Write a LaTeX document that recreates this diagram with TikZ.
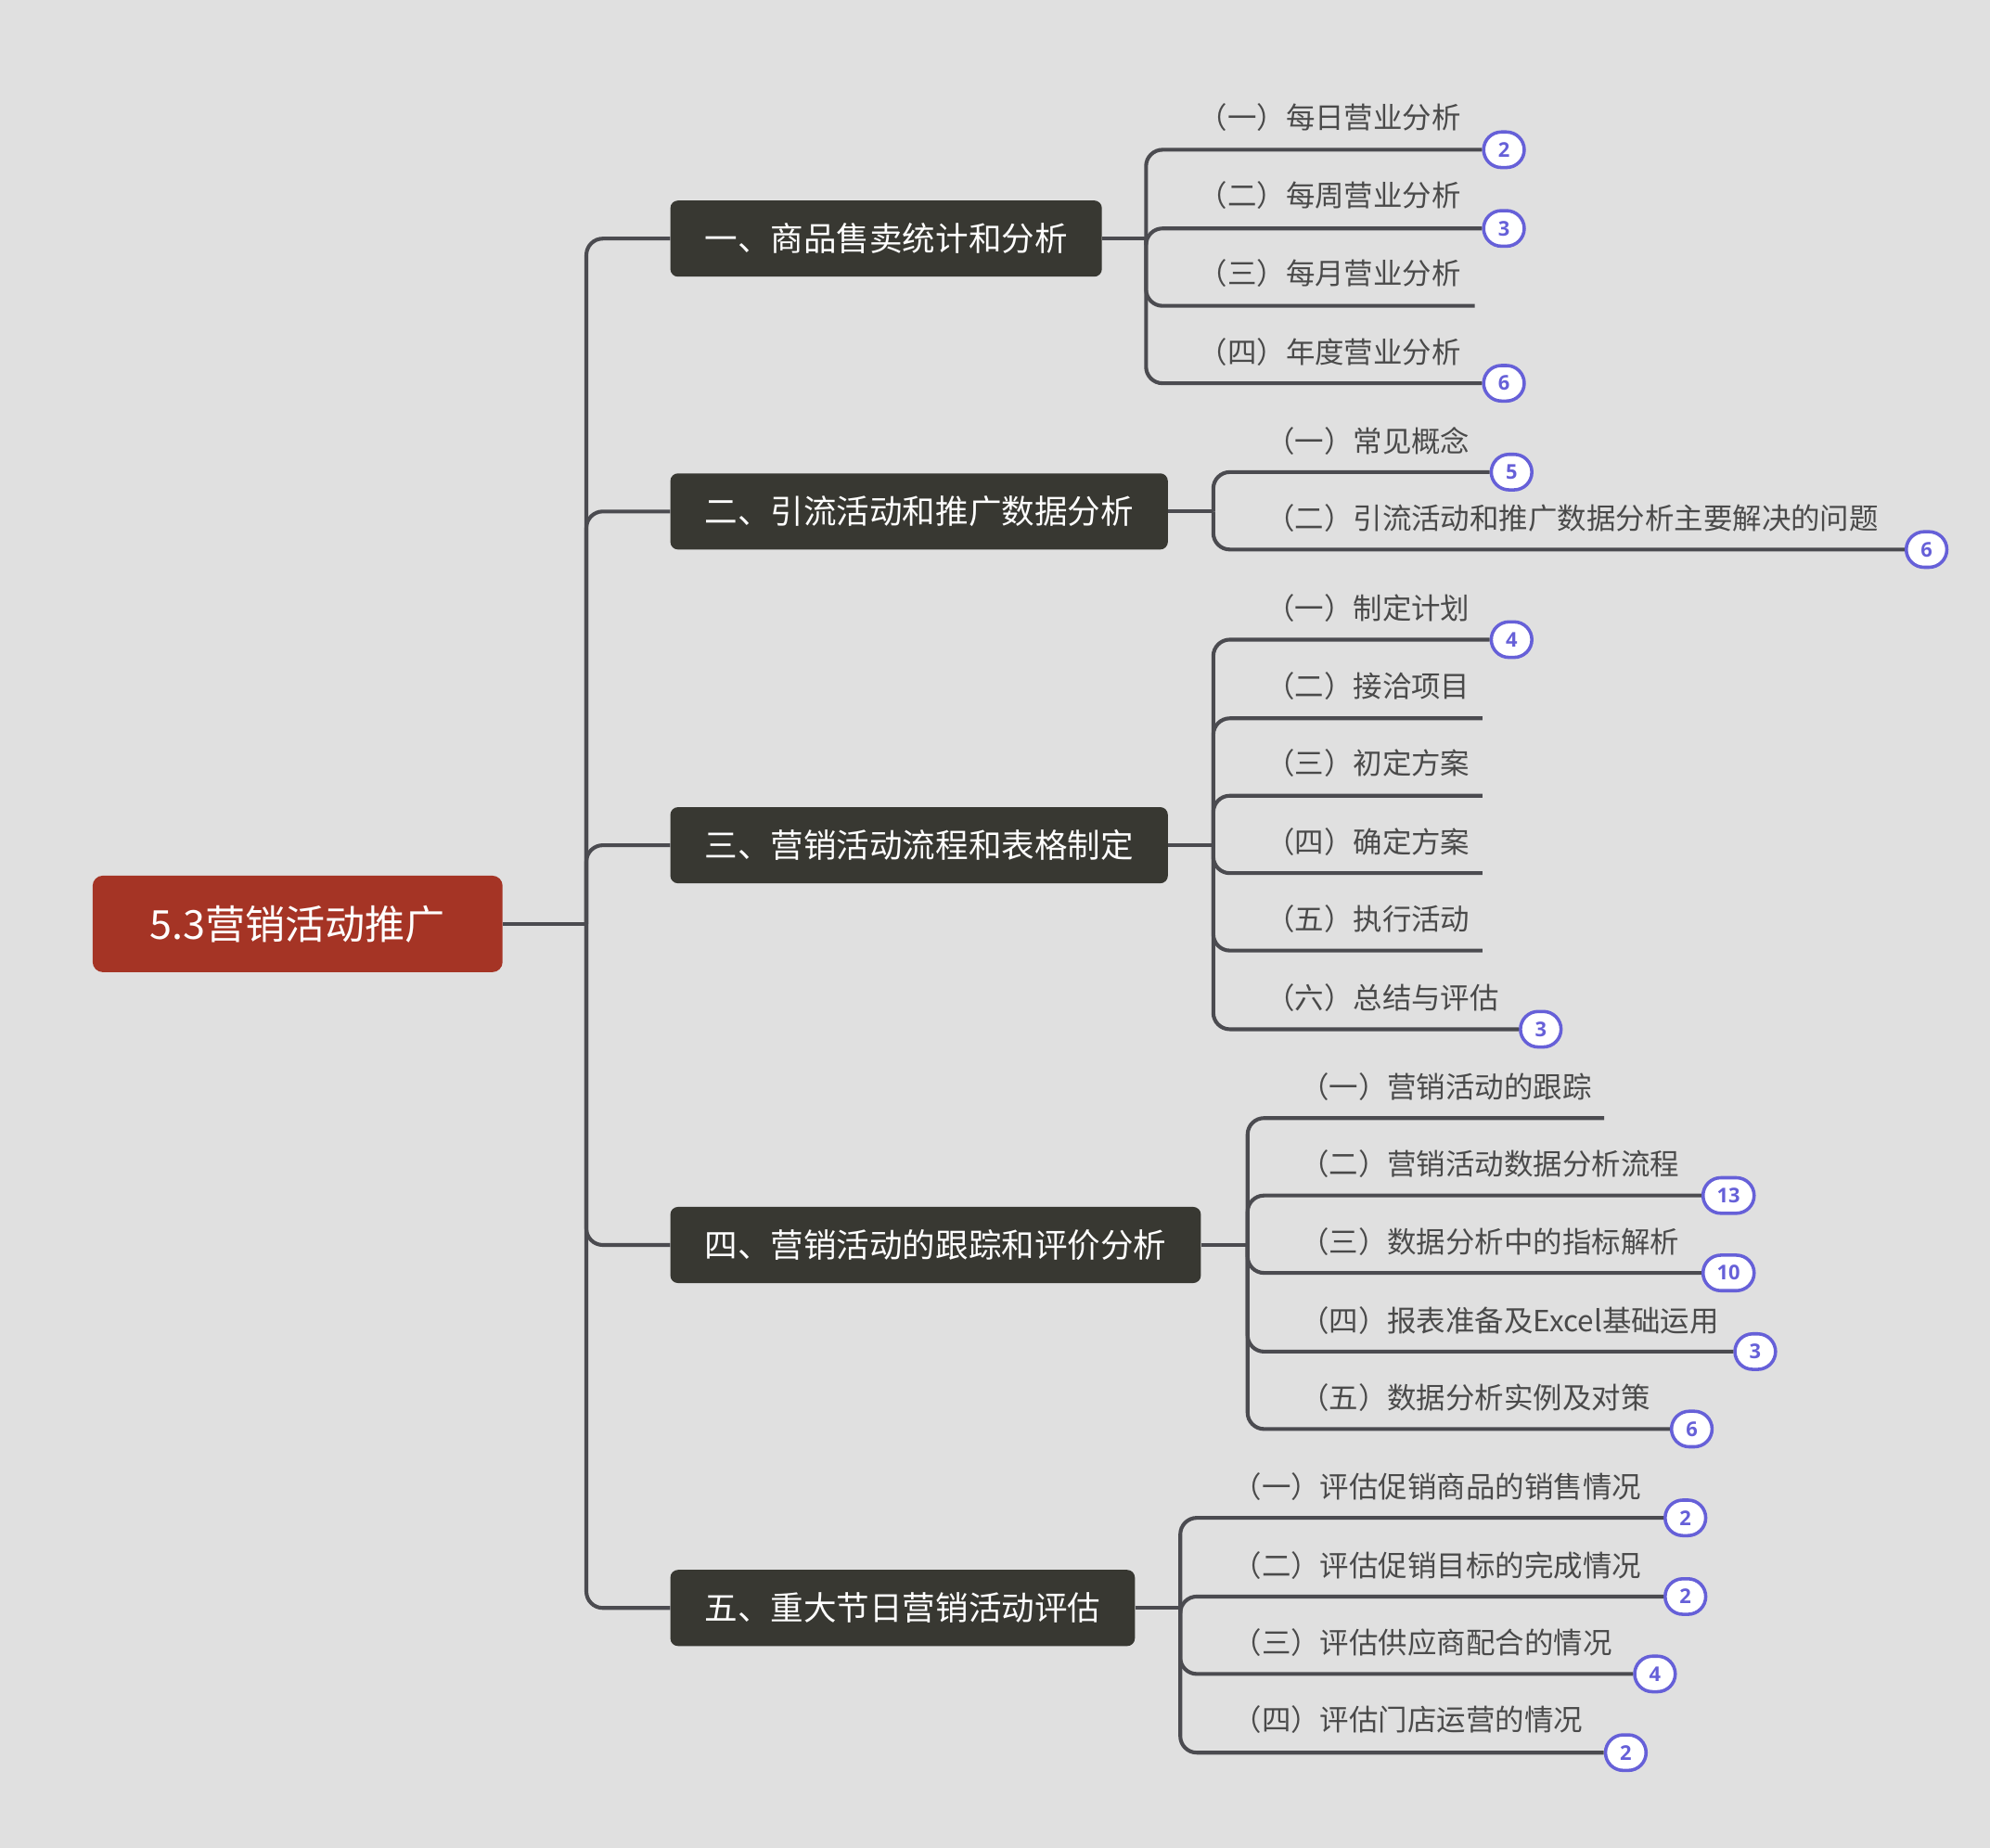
\documentclass[tikz,border=0pt]{standalone}
\usepackage{fontspec}
\setmainfont{Noto Sans CJK SC}
\newfontfamily\badgefont{Open Sans}
\definecolor{bgc}{HTML}{E0E0E0}
\definecolor{rootred}{HTML}{A53425}
\definecolor{topicdark}{HTML}{383832}
\definecolor{subgray}{HTML}{4A4A4A}
\definecolor{linegray}{HTML}{4B4B50}
\definecolor{badgeblue}{HTML}{6660D8}
\begin{document}
\begin{tikzpicture}[x=1pt,y=-1pt,
  rootbox/.style={rectangle, rounded corners=8pt, fill=rootred, text=white,
    font=\fontsize{31.5}{36}\selectfont, minimum width=323pt, minimum height=76pt, inner sep=0pt},
  topic/.style={rectangle, rounded corners=6pt, fill=topicdark, text=white,
    font=\fontsize{26}{30}\selectfont, minimum height=60pt, inner xsep=27pt, inner ysep=0pt, anchor=west},
  sub/.style={font=\fontsize{23}{27}\selectfont, text=subgray, inner sep=0pt, anchor=base west, xshift=-3pt},
  badge/.style={rectangle, rounded corners=14pt, draw=badgeblue, line width=2.6pt, fill=white,
    minimum width=32pt, minimum height=28pt, inner xsep=11pt, inner ysep=0pt,
    font=\badgefont\bfseries\fontsize{16}{16}\selectfont, text=badgeblue},
  conn/.style={draw=linegray, line width=3pt},
  elbow/.style={conn, rounded corners=13pt}
]
\useasboundingbox (0,0) rectangle (1568,1456);
\fill[bgc] (0,0) rectangle (1568,1456);

% root
\node[rootbox] (root) at (234.5,728) {5.3营销活动推广};
\coordinate (trunk) at (462,728);

% topics
\node[topic] (t1) at (528,188) {一、商品售卖统计和分析};
\node[topic] (t2) at (528,403) {二、引流活动和推广数据分析};
\node[topic] (t3) at (528,666) {三、营销活动流程和表格制定};
\node[topic] (t4) at (528,981) {四、营销活动的跟踪和评价分析};
\node[topic] (t5) at (528,1267) {五、重大节日营销活动评估};

\draw[conn] (root.east) -- (trunk);
\foreach \tp in {t1,t2,t3,t4,t5} \draw[elbow] (trunk) |- (\tp.west);

% ---------- group 1 ----------
\coordinate (j1) at (903,188);
\draw[conn] (t1.east) -- (j1);
\node[sub] (s1a) at (947,101) {（一）每日营业分析};
\node[sub] (s1b) at (947,163) {（二）每周营业分析};
\node[sub] (s1c) at (947,224) {（三）每月营业分析};
\node[sub] (s1d) at (947,286) {（四）年度营业分析};
\node[badge] (b1a) at (1185,118) {2};
\node[badge] (b1b) at (1185,180) {3};
\coordinate (e1c) at (1162,241);
\node[badge] (b1d) at (1185,302) {6};
\draw[elbow] (j1) |- (b1a.west);
\draw[elbow] (j1) |- (b1b.west);
\draw[elbow] (j1) |- (e1c);
\draw[elbow] (j1) |- (b1d.west);

% ---------- group 2 ----------
\coordinate (j2) at (956,403);
\draw[conn] (t2.east) -- (j2);
\node[sub] (s2a) at (1000,356) {（一）常见概念};
\node[sub] (s2b) at (1000,417) {（二）引流活动和推广数据分析主要解决的问题};
\node[badge] (b2a) at (1191,372) {5};
\node[badge] (b2b) at (1518,433) {6};
\draw[elbow] (j2) |- (b2a.west);
\draw[elbow] (j2) |- (b2b.west);

% ---------- group 3 ----------
\coordinate (j3) at (956,666);
\draw[conn] (t3.east) -- (j3);
\node[sub] (s3a) at (1000,488) {（一）制定计划};
\node[sub] (s3b) at (1000,549) {（二）接洽项目};
\node[sub] (s3c) at (1000,610) {（三）初定方案};
\node[sub] (s3d) at (1000,672) {（四）确定方案};
\node[sub] (s3e) at (1000,733) {（五）执行活动};
\node[sub] (s3f) at (1000,795) {（六）总结与评估};
\node[badge] (b3a) at (1191,504) {4};
\coordinate (e3b) at (1168,566);
\coordinate (e3c) at (1168,627);
\coordinate (e3d) at (1168,688);
\coordinate (e3e) at (1168,749);
\node[badge] (b3f) at (1214,811) {3};
\draw[elbow] (j3) |- (b3a.west);
\draw[elbow] (j3) |- (e3b);
\draw[elbow] (j3) |- (e3c);
\draw[elbow] (j3) |- (e3d);
\draw[elbow] (j3) |- (e3e);
\draw[elbow] (j3) |- (b3f.west);

% ---------- group 4 ----------
\coordinate (j4) at (983,981);
\draw[conn] (t4.east) -- (j4);
\node[sub] (s4a) at (1027,865) {（一）营销活动的跟踪};
\node[sub] (s4b) at (1027,926) {（二）营销活动数据分析流程};
\node[sub] (s4c) at (1027,987) {（三）数据分析中的指标解析};
\node[sub] (s4d) at (1027,1049) {（四）报表准备及Excel基础运用};
\node[sub] (s4e) at (1027,1110) {（五）数据分析实例及对策};
\coordinate (e4a) at (1264,881);
\node[badge] (b4b) at (1362,942) {13};
\node[badge] (b4c) at (1362,1003) {10};
\node[badge] (b4d) at (1383,1065) {3};
\node[badge] (b4e) at (1333,1126) {6};
\draw[elbow] (j4) |- (e4a);
\draw[elbow] (j4) |- (b4b.west);
\draw[elbow] (j4) |- (b4c.west);
\draw[elbow] (j4) |- (b4d.west);
\draw[elbow] (j4) |- (b4e.west);

% ---------- group 5 ----------
\coordinate (j5) at (930,1267);
\draw[conn] (t5.east) -- (j5);
\node[sub] (s5a) at (974,1180) {（一）评估促销商品的销售情况};
\node[sub] (s5b) at (974,1242) {（二）评估促销目标的完成情况};
\node[sub] (s5c) at (974,1303) {（三）评估供应商配合的情况};
\node[sub] (s5d) at (974,1364) {（四）评估门店运营的情况};
\node[badge] (b5a) at (1328,1196) {2};
\node[badge] (b5b) at (1328,1258) {2};
\node[badge] (b5c) at (1304,1319) {4};
\node[badge] (b5d) at (1281,1381) {2};
\draw[elbow] (j5) |- (b5a.west);
\draw[elbow] (j5) |- (b5b.west);
\draw[elbow] (j5) |- (b5c.west);
\draw[elbow] (j5) |- (b5d.west);
\end{tikzpicture}
\end{document}
